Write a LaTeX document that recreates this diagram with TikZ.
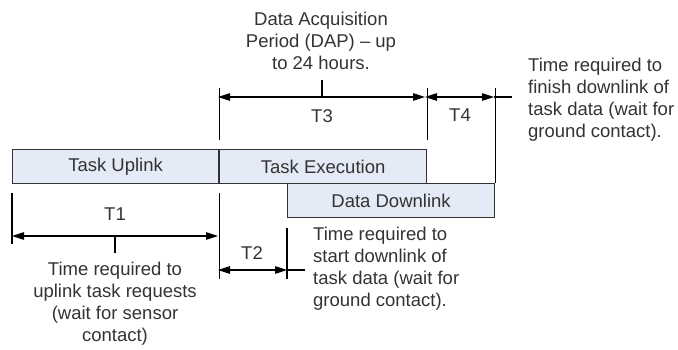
\documentclass[tikz,border=0pt]{standalone}
\usepackage{fontspec}
\setmainfont{Liberation Sans}
\usetikzlibrary{arrows.meta, positioning}
\definecolor{phasefill}{HTML}{E4EAF6}
\definecolor{inkgray}{HTML}{333333}

\begin{document}
\begin{tikzpicture}[
    x=1pt, y=-1pt,
    >={Triangle[length=12pt,width=7.5pt]},
    every node/.style={font=\fontsize{18.5}{22}\selectfont, text=inkgray, inner sep=0pt},
    phase/.style={draw=black!80, fill=phasefill, line width=1.1pt, minimum height=34pt, anchor=north west},
    dim/.style={<->, line width=1.1pt},
    ext/.style={line width=1.1pt}
  ]
  \useasboundingbox (0,0) rectangle (678,350);

  % ---- Phases ----
  \node[phase, minimum width=206pt] (uplink) at (12,149) {Task Uplink};
  \node[phase, minimum width=207pt] (exec) at (uplink.north east) {Task Execution};
  \node[phase, minimum width=207pt] (down) at (287,183) {Data Downlink};

  % ---- Extension lines ----
  \draw[ext] ([yshift=-9pt]uplink.south west) -- +(0,51);
  \draw[ext] ([yshift=-9pt]uplink.south east) -- +(0,86);
  \draw[ext] ([yshift=9pt]uplink.north east) -- +(0,-52);
  \draw[ext] ([yshift=9pt]exec.north east) -- +(0,-52);
  \draw[ext] ([yshift=-10pt]down.south west) -- +(0,51);
  \draw[ext] (down.north east) -- +(0,-95);

  % ---- Dimension lines ----
  \coordinate (t1s) at (12,236);
  \coordinate (t1e) at (218,236);
  \coordinate (t2s) at (218,270);
  \coordinate (t2e) at (287,270);
  \coordinate (t2x) at (305,270);
  \coordinate (t3s) at (218,97);
  \coordinate (t3e) at (425,97);
  \coordinate (t4e) at (494,97);
  \coordinate (t4x) at (512,97);

  \draw[dim] (t1s) -- (t1e);
  \draw[dim] (t2s) -- (t2e);
  \draw[ext] (t2e) -- (t2x);
  \draw[dim] (t3s) -- (t3e);
  \draw[dim] (t3e) -- (t4e);
  \draw[ext] (t4e) -- (t4x);

  % ---- Labels ----
  \node (t1) at (115,214) {T1};
  \node (t2) at (252,253) {T2};
  \node (t3) at (322,116) {T3};
  \node (t4) at (460,115) {T4};

  \draw[ext] (t1 |- t1s) -- ++(0,17);
  \draw[ext] (t3 |- t3s) -- ++(0,-17);

  % ---- Notes ----
  \node[align=center] (dap) at (321,41) {Data Acquisition\\Period (DAP) -- up\\to 24 hours.};
  \node[align=center] (uptxt) at (115,304) {Time required to\\uplink task requests\\(wait for sensor\\contact)};
  \node[align=left, anchor=west] (starttxt) at (313,269) {Time required to\\start downlink of\\task data (wait for\\ground contact).};
  \node[align=left, anchor=west] (endtxt) at (528,100) {Time required to\\finish downlink of\\task data (wait for\\ground contact).};
\end{tikzpicture}
\end{document}
